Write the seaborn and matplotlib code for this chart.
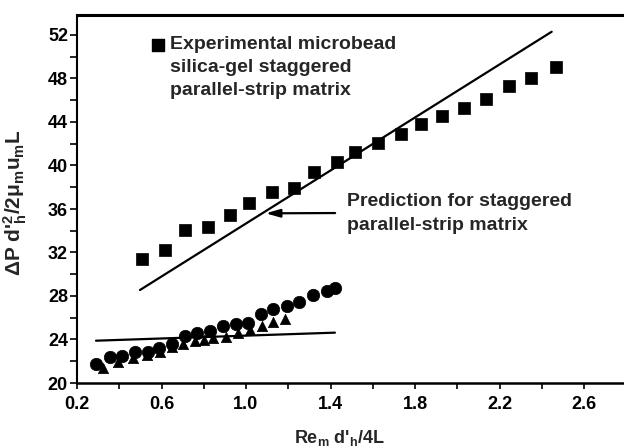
import matplotlib
matplotlib.use("Agg")
import matplotlib.pyplot as plt
from matplotlib.ticker import FixedLocator, MultipleLocator
import seaborn as sns
import pandas as pd

# ---- data ----
sq_x = [0.506, 0.617, 0.711, 0.819, 0.924, 1.014, 1.122, 1.227, 1.322, 1.432,
        1.516, 1.626, 1.734, 1.828, 1.929, 2.032, 2.135, 2.246, 2.349, 2.466]
sq_y = [31.37, 32.20, 34.07, 34.34, 35.42, 36.52, 37.54, 37.96, 39.37, 40.32,
        41.24, 42.10, 42.90, 43.84, 44.58, 45.31, 46.14, 47.31, 48.07, 49.09]

circ_x = [0.288, 0.356, 0.412, 0.475, 0.538, 0.590, 0.650, 0.711, 0.770, 0.830,
          0.893, 0.953, 1.011, 1.071, 1.128, 1.193, 1.253, 1.319, 1.382, 1.421]
circ_y = [21.72, 22.36, 22.48, 22.88, 22.88, 23.25, 23.59, 24.32, 24.57, 24.81,
          25.20, 25.38, 25.54, 26.30, 26.78, 27.10, 27.48, 28.09, 28.46, 28.71]

tri_x = [0.323, 0.394, 0.465, 0.531, 0.593, 0.648, 0.700, 0.759, 0.800, 0.845,
         0.904, 0.964, 1.019, 1.074, 1.126, 1.185]
tri_y = [21.38, 21.93, 22.30, 22.57, 22.85, 23.34, 23.56, 23.85, 23.95, 24.11,
         24.26, 24.57, 24.87, 25.24, 25.64, 25.86]

pred_hi_x = [0.498, 2.447]
pred_hi_y = [28.55, 52.30]
pred_lo_x = [0.290, 1.421]
pred_lo_y = [23.89, 24.63]

x_ticks = [0.2, 0.6, 1.0, 1.4, 1.8, 2.2, 2.6]
x_tick_labels = ["0.2", "0.6", "1.0", "1.4", "1.8", "2.2", "2.6"]
y_ticks = [20, 24, 28, 32, 36, 40, 44, 48, 52]
y_tick_labels = [str(v) for v in y_ticks]

legend_text = "Experimental microbead\nsilica-gel staggered\nparallel-strip matrix"
pred_text = "Prediction for staggered\nparallel-strip matrix"
x_label = "Re$_{m}$ d'$_{h}$/4L"
y_label = "ΔP d'$^{2}_{h}$/2μ$_{m}$u$_{m}$L"

# ---- style ----
sns.set_theme(style="ticks")
plt.rcParams["font.family"] = ["Liberation Sans", "DejaVu Sans"]
plt.rcParams["mathtext.fontset"] = "custom"
plt.rcParams["mathtext.rm"] = "Liberation Sans:bold"
plt.rcParams["mathtext.bf"] = "Liberation Sans:bold"
plt.rcParams["mathtext.it"] = "Liberation Sans:bold"
plt.rcParams["mathtext.default"] = "bf"

fig = plt.figure(figsize=(6.24, 4.48), dpi=100)
ax = fig.add_axes([77 / 624, 1 - 383 / 448, 547 / 624, 368 / 448])

df_sq = pd.DataFrame({"x": sq_x, "y": sq_y})
df_c = pd.DataFrame({"x": circ_x, "y": circ_y})
df_t = pd.DataFrame({"x": tri_x, "y": tri_y})

sns.lineplot(x=pred_hi_x, y=pred_hi_y, color="black", lw=1.6, ax=ax)
sns.lineplot(x=pred_lo_x, y=pred_lo_y, color="black", lw=1.6, ax=ax)
sns.scatterplot(data=df_t, x="x", y="y", marker="^", s=55, color="black",
                edgecolor="black", linewidth=0.5, ax=ax, legend=False, zorder=3)
sns.scatterplot(data=df_c, x="x", y="y", marker="o", s=80, color="black",
                edgecolor="black", linewidth=0.5, ax=ax, legend=False, zorder=4)
sns.scatterplot(data=df_sq, x="x", y="y", marker="s", s=70, color="black",
                edgecolor="black", linewidth=0.5, ax=ax, legend=False, zorder=4)

ax.set_xlim(0.2, 0.2 + 547 / 211.25)
ax.set_ylim(20, 20 + 368 / 10.875)

ax.xaxis.set_major_locator(FixedLocator(x_ticks))
ax.set_xticklabels(x_tick_labels)
ax.xaxis.set_minor_locator(MultipleLocator(0.2))
ax.yaxis.set_major_locator(FixedLocator(y_ticks))
ax.set_yticklabels(y_tick_labels)
ax.yaxis.set_minor_locator(MultipleLocator(2))

for lab in ax.get_xticklabels() + ax.get_yticklabels():
    lab.set_fontweight("bold")
    lab.set_fontsize(13)

ax.tick_params(axis="x", which="both", direction="out", length=4.5, width=1.2,
               pad=5, colors="black")
ax.tick_params(axis="y", which="both", direction="out", length=5, width=1.2,
               pad=1.5, colors="black")

for side in ["left", "bottom", "top"]:
    ax.spines[side].set_color("black")
ax.spines["left"].set_linewidth(1.5)
ax.spines["bottom"].set_linewidth(1.8)
ax.spines["top"].set_linewidth(2.2)
ax.spines["right"].set_visible(False)

ax.set_xlabel(x_label, fontsize=13, fontweight="bold")
ax.set_ylabel(y_label, fontsize=15, fontweight="bold")
ax.xaxis.set_label_coords(0.48, -0.122)
ax.yaxis.set_label_coords(-0.088, 0.49)

# legend key + text
ax.scatter([0.148], [0.918], marker="s", s=70, color="black",
           transform=ax.transAxes, clip_on=False, zorder=5)
ax.text(0.170, 0.942, legend_text, transform=ax.transAxes, fontsize=14,
        fontweight="bold", va="top", ha="left", linespacing=1.45)

# prediction annotation
ax.text(1.478, 37.45, pred_text, fontsize=14, fontweight="bold",
        va="top", ha="left", linespacing=1.5)
ax.annotate("", xy=(1.08, 35.6), xytext=(1.435, 35.63),
            arrowprops=dict(arrowstyle="-|>,head_length=0.7,head_width=0.2",
                            lw=1.6, color="black"))

fig.savefig("out.png", dpi=100)
